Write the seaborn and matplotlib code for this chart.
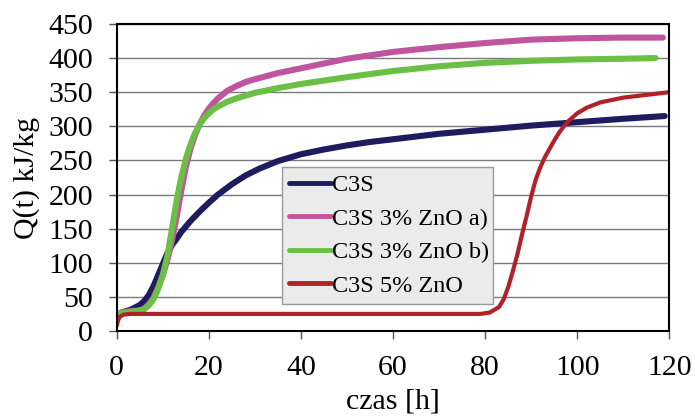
import matplotlib
matplotlib.use("Agg")
import matplotlib.pyplot as plt
import seaborn as sns
import pandas as pd

# Data
t_c3s = [0, 1, 3, 5, 6, 7, 8, 9, 10, 11, 12, 13, 14, 15, 16, 17, 18, 20, 22, 25,
         28, 31, 35, 40, 45, 50, 55, 60, 70, 80, 90, 100, 110, 119]
q_c3s = [22, 27, 31, 38, 44, 53, 66, 82, 98, 114, 126, 135, 145, 153, 161, 168, 175, 188, 200, 215,
         228, 238, 249, 259, 266, 272, 277, 281, 289, 295, 301, 306, 311, 315]

t_zno3a = [0, 1, 3, 5, 6, 7, 8, 9, 10, 11, 12, 13, 14, 15, 16, 17, 18, 19, 20, 21,
           22, 24, 26, 28, 30, 35, 40, 45, 50, 60, 70, 80, 90, 100, 110, 118.6]
q_zno3a = [22, 27, 29, 30, 33, 39, 49, 64, 82, 104, 133, 167, 205, 240, 267, 287, 303, 316, 326, 334,
           341, 352, 359, 365, 369, 378, 385, 392, 399, 409, 416, 422, 427, 429, 430, 430]

t_zno3b = [0, 1, 3, 5, 6, 7, 8, 9, 10, 11, 12, 13, 14, 15, 16, 17, 18, 19, 20, 21,
           22, 24, 26, 28, 30, 35, 40, 45, 50, 60, 70, 80, 90, 100, 110, 117]
q_zno3b = [22, 26, 28, 30, 32, 38, 47, 62, 82, 110, 150, 191, 225, 252, 273, 290, 303, 312, 319, 325,
           329, 336, 341, 345, 349, 356, 362, 367, 372, 381, 388, 393, 396, 398, 399, 400]

t_zno5 = [0, 0.3, 0.7, 1.5, 3, 10, 20, 40, 60, 75, 79, 81, 83, 84, 85, 86, 87, 88, 89, 90,
          91, 92, 93, 94, 95, 96, 97, 98, 99, 100, 102, 105, 110, 115, 120]
q_zno5 = [8, 16, 21, 24, 25, 25, 25, 25, 25, 25, 25, 27, 35, 46, 64, 87, 112, 141, 168, 197,
          222, 240, 255, 267, 279, 290, 299, 307, 313, 319, 327, 335, 342, 346, 350]

labels = ["C3S", "C3S 3% ZnO a)", "C3S 3% ZnO b)", "C3S 5% ZnO"]
colors = ["#1e1c5e", "#c0559f", "#6cbf45", "#b02228"]
widths = [4.4, 4.4, 4.4, 3.0]

series = [(t_c3s, q_c3s), (t_zno3a, q_zno3a), (t_zno3b, q_zno3b), (t_zno5, q_zno5)]

sns.set_theme(style="white")
plt.rcParams['font.family'] = ['Liberation Serif', 'DejaVu Serif']
plt.rcParams['text.color'] = 'black'
plt.rcParams['axes.labelcolor'] = 'black'
plt.rcParams['xtick.color'] = 'black'
plt.rcParams['ytick.color'] = 'black'

fig = plt.figure(figsize=(6.95, 4.2), dpi=100)
ax = fig.add_axes([0.168, 0.212, 0.795, 0.731])

for (t, q), lab, col, lw in zip(series, labels, colors, widths):
    df = pd.DataFrame({'czas': t, 'Q': q})
    sns.lineplot(data=df, x='czas', y='Q', ax=ax, color=col, linewidth=lw,
                 label=lab, solid_capstyle='round', solid_joinstyle='round')

ax.set_xlim(0, 120)
ax.set_ylim(0, 450)
ax.set_xticks(range(0, 121, 20))
ax.set_yticks(range(0, 451, 50))
ax.yaxis.grid(True, color='#7a7a7a', linewidth=1)
ax.xaxis.grid(False)
ax.set_axisbelow(True)
for s in ax.spines.values():
    s.set_color('black')
    s.set_linewidth(1.5)
ax.tick_params(axis='both', direction='out', length=6, width=1, color='#555555',
               labelcolor='black', labelsize=21.5, pad=11, bottom=True, left=True)
ax.set_xlabel('czas [h]', fontsize=21.5, labelpad=6)
ax.set_ylabel('Q(t) kJ/kg', fontsize=21.5, labelpad=6)

leg = ax.legend(loc='lower left', bbox_to_anchor=(0.299, 0.088, 0.382, 0.446), mode='expand',
                fontsize=17.5, frameon=True, fancybox=False, facecolor='#ebebeb',
                edgecolor='#999999', framealpha=1, handlelength=1.7, handletextpad=0.05,
                labelspacing=0.47, borderpad=0.3, borderaxespad=0)
leg.get_frame().set_linewidth(1)
for h in leg.get_lines():
    h.set_linewidth(3.5)

fig.savefig('out.png', dpi=100)
